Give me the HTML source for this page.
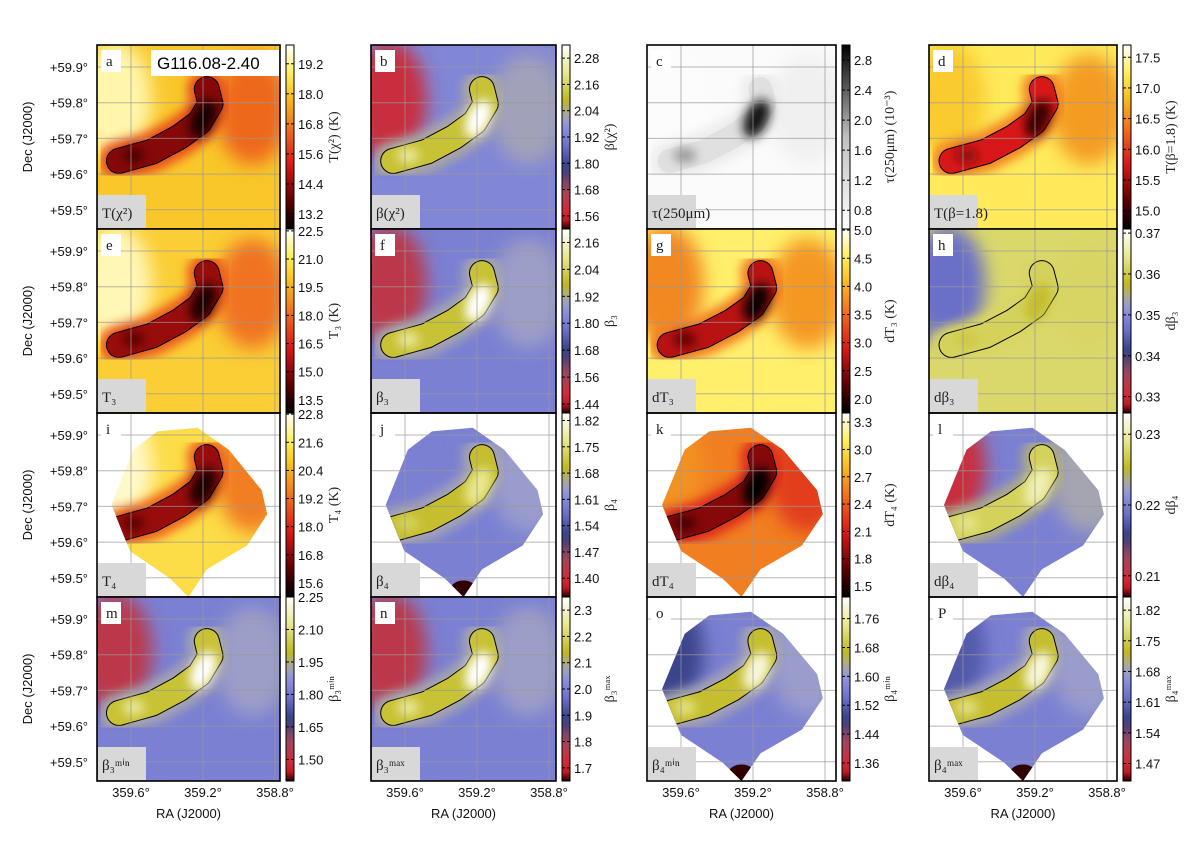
<!DOCTYPE html>
<html><head><meta charset="utf-8">
<style>
html,body{margin:0;padding:0;background:#fff;}
svg{display:block;font-family:"Liberation Sans",sans-serif;}
.ser{font-family:"Liberation Serif",serif;}
</style></head>
<body>
<svg id="fig" width="1200" height="842" viewBox="0 0 1200 842">
<defs>
<filter id="blur" x="-20%" y="-20%" width="140%" height="140%"><feGaussianBlur stdDeviation="5"/></filter>
<filter id="blur2" x="-20%" y="-20%" width="140%" height="140%"><feGaussianBlur stdDeviation="9"/></filter>
</defs>
</svg>
<script>
// ---- data ----
const panelLetters = ["a","b","c","d","e","f","g","h","i","j","k","l","m","n","o","P"];
const panelLabels = ["T(χ²)","β(χ²)","τ(250μm)","T(β=1.8)","T₃","β₃","dT₃","dβ₃","T₄","β₄","dT₄","dβ₄","β₃ᵐⁱⁿ","β₃ᵐᵃˣ","β₄ᵐⁱⁿ","β₄ᵐᵃˣ"];
const cbarTitles = ["T(χ²) (K)","β(χ²)","τ(250μm) (10⁻³)","T(β=1.8) (K)","T₃ (K)","β₃","dT₃ (K)","dβ₃","T₄ (K)","β₄","dT₄ (K)","dβ₄","β₃ᵐⁱⁿ","β₃ᵐᵃˣ","β₄ᵐⁱⁿ","β₄ᵐᵃˣ"];
const cmaps = ["hot","beta","gray","hot","hot","beta","hot","beta","hot","beta","hot","beta","beta","beta","beta","beta"];
const cbarMin = [12.6,1.50,0.55,14.7,12.8,1.40,1.75,0.326,15.0,1.35,1.38,0.207,1.40,1.65,1.31,1.43];
const cbarMax = [19.95,2.34,3.0,17.7,22.6,2.22,5.02,0.371,22.85,1.84,3.4,0.233,2.25,2.35,1.82,1.85];
const cbarTicks = [
 ["13.2","14.4","15.6","16.8","18.0","19.2"],
 ["1.56","1.68","1.80","1.92","2.04","2.16","2.28"],
 ["0.8","1.2","1.6","2.0","2.4","2.8"],
 ["15.0","15.5","16.0","16.5","17.0","17.5"],
 ["13.5","15.0","16.5","18.0","19.5","21.0","22.5"],
 ["1.44","1.56","1.68","1.80","1.92","2.04","2.16"],
 ["2.0","2.5","3.0","3.5","4.0","4.5","5.0"],
 ["0.33","0.34","0.35","0.36","0.37"],
 ["15.6","16.8","18.0","19.2","20.4","21.6","22.8"],
 ["1.40","1.47","1.54","1.61","1.68","1.75","1.82"],
 ["1.5","1.8","2.1","2.4","2.7","3.0","3.3"],
 ["0.21","0.22","0.23"],
 ["1.50","1.65","1.80","1.95","2.10","2.25"],
 ["1.7","1.8","1.9","2.0","2.1","2.2","2.3"],
 ["1.36","1.44","1.52","1.60","1.68","1.76"],
 ["1.47","1.54","1.61","1.68","1.75","1.82"]
];
// map appearance as colormap fractions: background, ridge, core, corner patch
const mapBg = [0.74,0.52,0.03,0.84,0.76,0.5,0.86,0.8,0.8,0.5,0.58,0.5,0.5,0.5,0.5,0.5];
const mapRidge = [0.22,0.73,0.25,0.35,0.25,0.73,0.3,0.78,0.25,0.72,0.22,0.78,0.73,0.73,0.72,0.72];
const mapCore = [0.03,1.0,0.95,0.1,0.05,1.0,0.02,0.72,0.05,0.85,0.01,0.9,1.0,1.0,0.95,0.95];
const mapCorner = [0.92,0.12,0.02,0.75,0.93,0.15,0.6,0.45,0.95,0.5,0.62,0.12,0.15,0.15,0.35,0.4];
const maskedPanel = [0,0,0,0,0,0,0,0,1,1,1,1,0,0,1,1];
const decTicks = ["+59.9°","+59.8°","+59.7°","+59.6°","+59.5°"];
const decValues = [59.9,59.8,59.7,59.6,59.5];
const raTicks = ["359.6°","359.2°","358.8°"];
const raValues = [359.6,359.2,358.8];
const ridgeX = [0.12,0.3,0.45,0.56,0.62,0.6];
const ridgeY = [0.63,0.58,0.5,0.42,0.32,0.24];
const maskX = [0.33,0.55,0.72,0.9,0.93,0.82,0.6,0.5,0.4,0.18,0.08,0.2];
const maskY = [0.1,0.08,0.2,0.42,0.55,0.72,0.85,1.0,0.9,0.75,0.5,0.2];

// ---- layout ----
const colL = [97,371,647,929], colW = [183,185,189,188];
const rowT = [45,229,413,597], rowH = 184;
const NS = "http://www.w3.org/2000/svg";
const svg = document.getElementById("fig");
function mk(tag, attrs, parent){const e=document.createElementNS(NS,tag);for(const k in attrs)e.setAttribute(k,attrs[k]);(parent||svg).appendChild(e);return e;}

const stops = {
 hot:[[0,"#000000"],[0.15,"#5a0000"],[0.35,"#d81818"],[0.55,"#f07020"],[0.72,"#f8c020"],[0.85,"#ffee60"],[1,"#ffffff"]],
 beta:[[0,"#200000"],[0.06,"#e0202a"],[0.22,"#a04860"],[0.33,"#303c80"],[0.45,"#6a70c8"],[0.57,"#9296e0"],[0.62,"#a8a8a8"],[0.7,"#c0b820"],[0.85,"#e8e890"],[1,"#ffffff"]],
 gray:[[0,"#ffffff"],[0.5,"#c0c0c0"],[1,"#000000"]]
};
function hex(c){return [1,3,5].map(i=>parseInt(c.substr(i,2),16));}
function cmap(name,t){const s=stops[name];t=Math.max(0,Math.min(1,t));for(let i=1;i<s.length;i++){if(t<=s[i][0]){const a=hex(s[i-1][1]),b=hex(s[i][1]);const f=(t-s[i-1][0])/(s[i][0]-s[i-1][0]);return "rgb("+a.map((v,j)=>Math.round(v+(b[j]-v)*f)).join(",")+")";}}return s[s.length-1][1];}

const defs = svg.querySelector("defs");
for(let p=0;p<16;p++){
 const r=Math.floor(p/4), c=p%4;
 const x0=colL[c], y0=rowT[r], w=colW[c], h=rowH;
 const decY = v => y0 + 22 + (59.9 - v)/0.1*35.7;
 const raX = v => x0 + 34 + (359.6 - v)/0.4*72;
 const g=mk("g",{});
 
 
 const cp=mk("clipPath",{id:"cp"+p},defs);
 if(maskedPanel[p]){
   mk("polygon",{points:maskX.map((mx,i)=>(x0+mx*w)+","+(y0+maskY[i]*h)).join(" ")},cp);
 } else mk("rect",{x:x0,y:y0,width:w,height:h},cp);
 const m=mk("g",{"clip-path":"url(#cp"+p+")"},g);
 const cm=cmaps[p];
 mk("rect",{x:x0,y:y0,width:w,height:h,fill:cmap(cm,mapBg[p])},m);
 const cg=mk("g",{filter:"url(#blur2)"},m);
 mk("ellipse",{cx:x0+w*0.1,cy:y0+h*0.3,rx:w*0.2,ry:h*0.32,fill:cmap(cm,mapCorner[p])},cg);
 mk("ellipse",{cx:x0+w*0.85,cy:y0+h*0.35,rx:w*0.2,ry:h*0.3,fill:cmap(cm,(mapBg[p]*0.6+mapRidge[p]*0.4))},cg);
 const pts=ridgeX.map((rx,i)=>(x0+rx*w)+","+(y0+ridgeY[i]*h)).join(" ");
 const rg=mk("g",{filter:"url(#blur)"},m);
 mk("polyline",{points:pts,fill:"none",stroke:cmap(cm,(mapRidge[p]+mapBg[p])/2),"stroke-width":40,"stroke-linecap":"round","stroke-linejoin":"round"},rg);
 mk("polyline",{points:pts,fill:"none",stroke:cm==="gray"?"none":"#000","stroke-width":26,"stroke-linecap":"round","stroke-linejoin":"round"},m);
 mk("polyline",{points:pts,fill:"none",stroke:cmap(cm,mapRidge[p]),"stroke-width":24,"stroke-linecap":"round","stroke-linejoin":"round"},m);
 const core=mk("g",{filter:"url(#blur)"},m);
 mk("ellipse",{cx:x0+w*0.58,cy:y0+h*0.4,rx:w*0.06,ry:h*0.11,fill:cmap(cm,mapCore[p]),transform:"rotate(25 "+(x0+w*0.58)+" "+(y0+h*0.4)+")"},core);
 mk("ellipse",{cx:x0+w*0.2,cy:y0+h*0.6,rx:w*0.06,ry:h*0.04,fill:cmap(cm,(mapCore[p]+mapRidge[p])/2)},core);
 if(maskedPanel[p] && (c===1||r===3)){
   mk("ellipse",{cx:x0+w*0.5,cy:y0+h*0.96,rx:w*0.07,ry:h*0.05,fill:"#300000"},m);
 }
 decValues.forEach(v=>{mk("line",{x1:x0,x2:x0+w,y1:decY(v),y2:decY(v),stroke:"#999","stroke-width":1,opacity:0.7},g);});
 raValues.forEach(v=>{mk("line",{x1:raX(v),x2:raX(v),y1:y0,y2:y0+h,stroke:"#999","stroke-width":1,opacity:0.7},g);});
 mk("rect",{x:x0,y:y0,width:w,height:h,fill:"none",stroke:"#000","stroke-width":1.6},g);
 mk("rect",{x:x0+4,y:y0+5,width:20,height:22,fill:"#fff"},g);
 const lt=mk("text",{x:x0+9,y:y0+21,"font-size":15,class:"ser",fill:"#222"},g);
 lt.textContent=panelLetters[p];
 
 
 mk("rect",{x:x0+1,y:y0+h-34,width:48,height:33,fill:"#d8d8d8"},g);
 const pl=mk("text",{x:x0+5,y:y0+h-11,"font-size":15,class:"ser",fill:"#222"},g);
 pl.textContent=panelLabels[p];
 
 
 if(p===0){
   mk("rect",{x:x0+54,y:y0+5,width:128,height:26,fill:"#fff"},g);
   const tt=mk("text",{x:x0+60,y:y0+24,"font-size":17,fill:"#000"},g);
   tt.textContent="G116.08-2.40";
   
   
 }
 if(c===0){
   decValues.forEach((v,i)=>{const t=mk("text",{x:x0-9,y:decY(v)+5,"font-size":13,"text-anchor":"end",fill:"#111"},g);t.textContent=decTicks[i];
     
     });
   const yl=mk("text",{x:0,y:0,"font-size":13,"text-anchor":"middle",transform:"translate(32 "+(y0+h/2)+") rotate(-90)",fill:"#111"},g);
   yl.textContent="Dec (J2000)";
   
   
 }
 if(r===3){
   raValues.forEach((v,i)=>{const t=mk("text",{x:raX(v),y:y0+h+16,"font-size":13,"text-anchor":"middle",fill:"#111"},g);t.textContent=raTicks[i];
     
     });
   const xl=mk("text",{x:x0+w/2,y:y0+h+37,"font-size":13,"text-anchor":"middle",fill:"#111"},g);
   xl.textContent="RA (J2000)";
   
   
 }
 const cx=x0+w+6, cw=8;
 const grad=mk("linearGradient",{id:"gr"+p,x1:0,y1:1,x2:0,y2:0},defs);
 for(let k=0;k<=20;k++)mk("stop",{offset:k/20,"stop-color":cmap(cm,k/20)},grad);
 const cb=mk("rect",{x:cx,y:y0,width:cw,height:h,fill:"url(#gr"+p+")",stroke:"#000","stroke-width":1},g);
 
 
 const cy = v => y0 + h - (v - cbarMin[p])/(cbarMax[p]-cbarMin[p])*h;
 cbarTicks[p].forEach(s=>{const yy=cy(parseFloat(s));
   mk("line",{x1:cx,x2:cx+3,y1:yy,y2:yy,stroke:"#000"},g);
   mk("line",{x1:cx+cw-3,x2:cx+cw,y1:yy,y2:yy,stroke:"#000"},g);
   const t=mk("text",{x:cx+cw+4,y:yy+5,"font-size":13,fill:"#111"},g);t.textContent=s;
   
   });
 const ct=mk("text",{x:0,y:0,"font-size":14,class:"ser","text-anchor":"middle",transform:"translate("+(cx+cw+44)+" "+(y0+h/2)+") rotate(-90)",fill:"#222"},g);
 ct.textContent=cbarTitles[p];
 
 
}
</script>
</body></html>
